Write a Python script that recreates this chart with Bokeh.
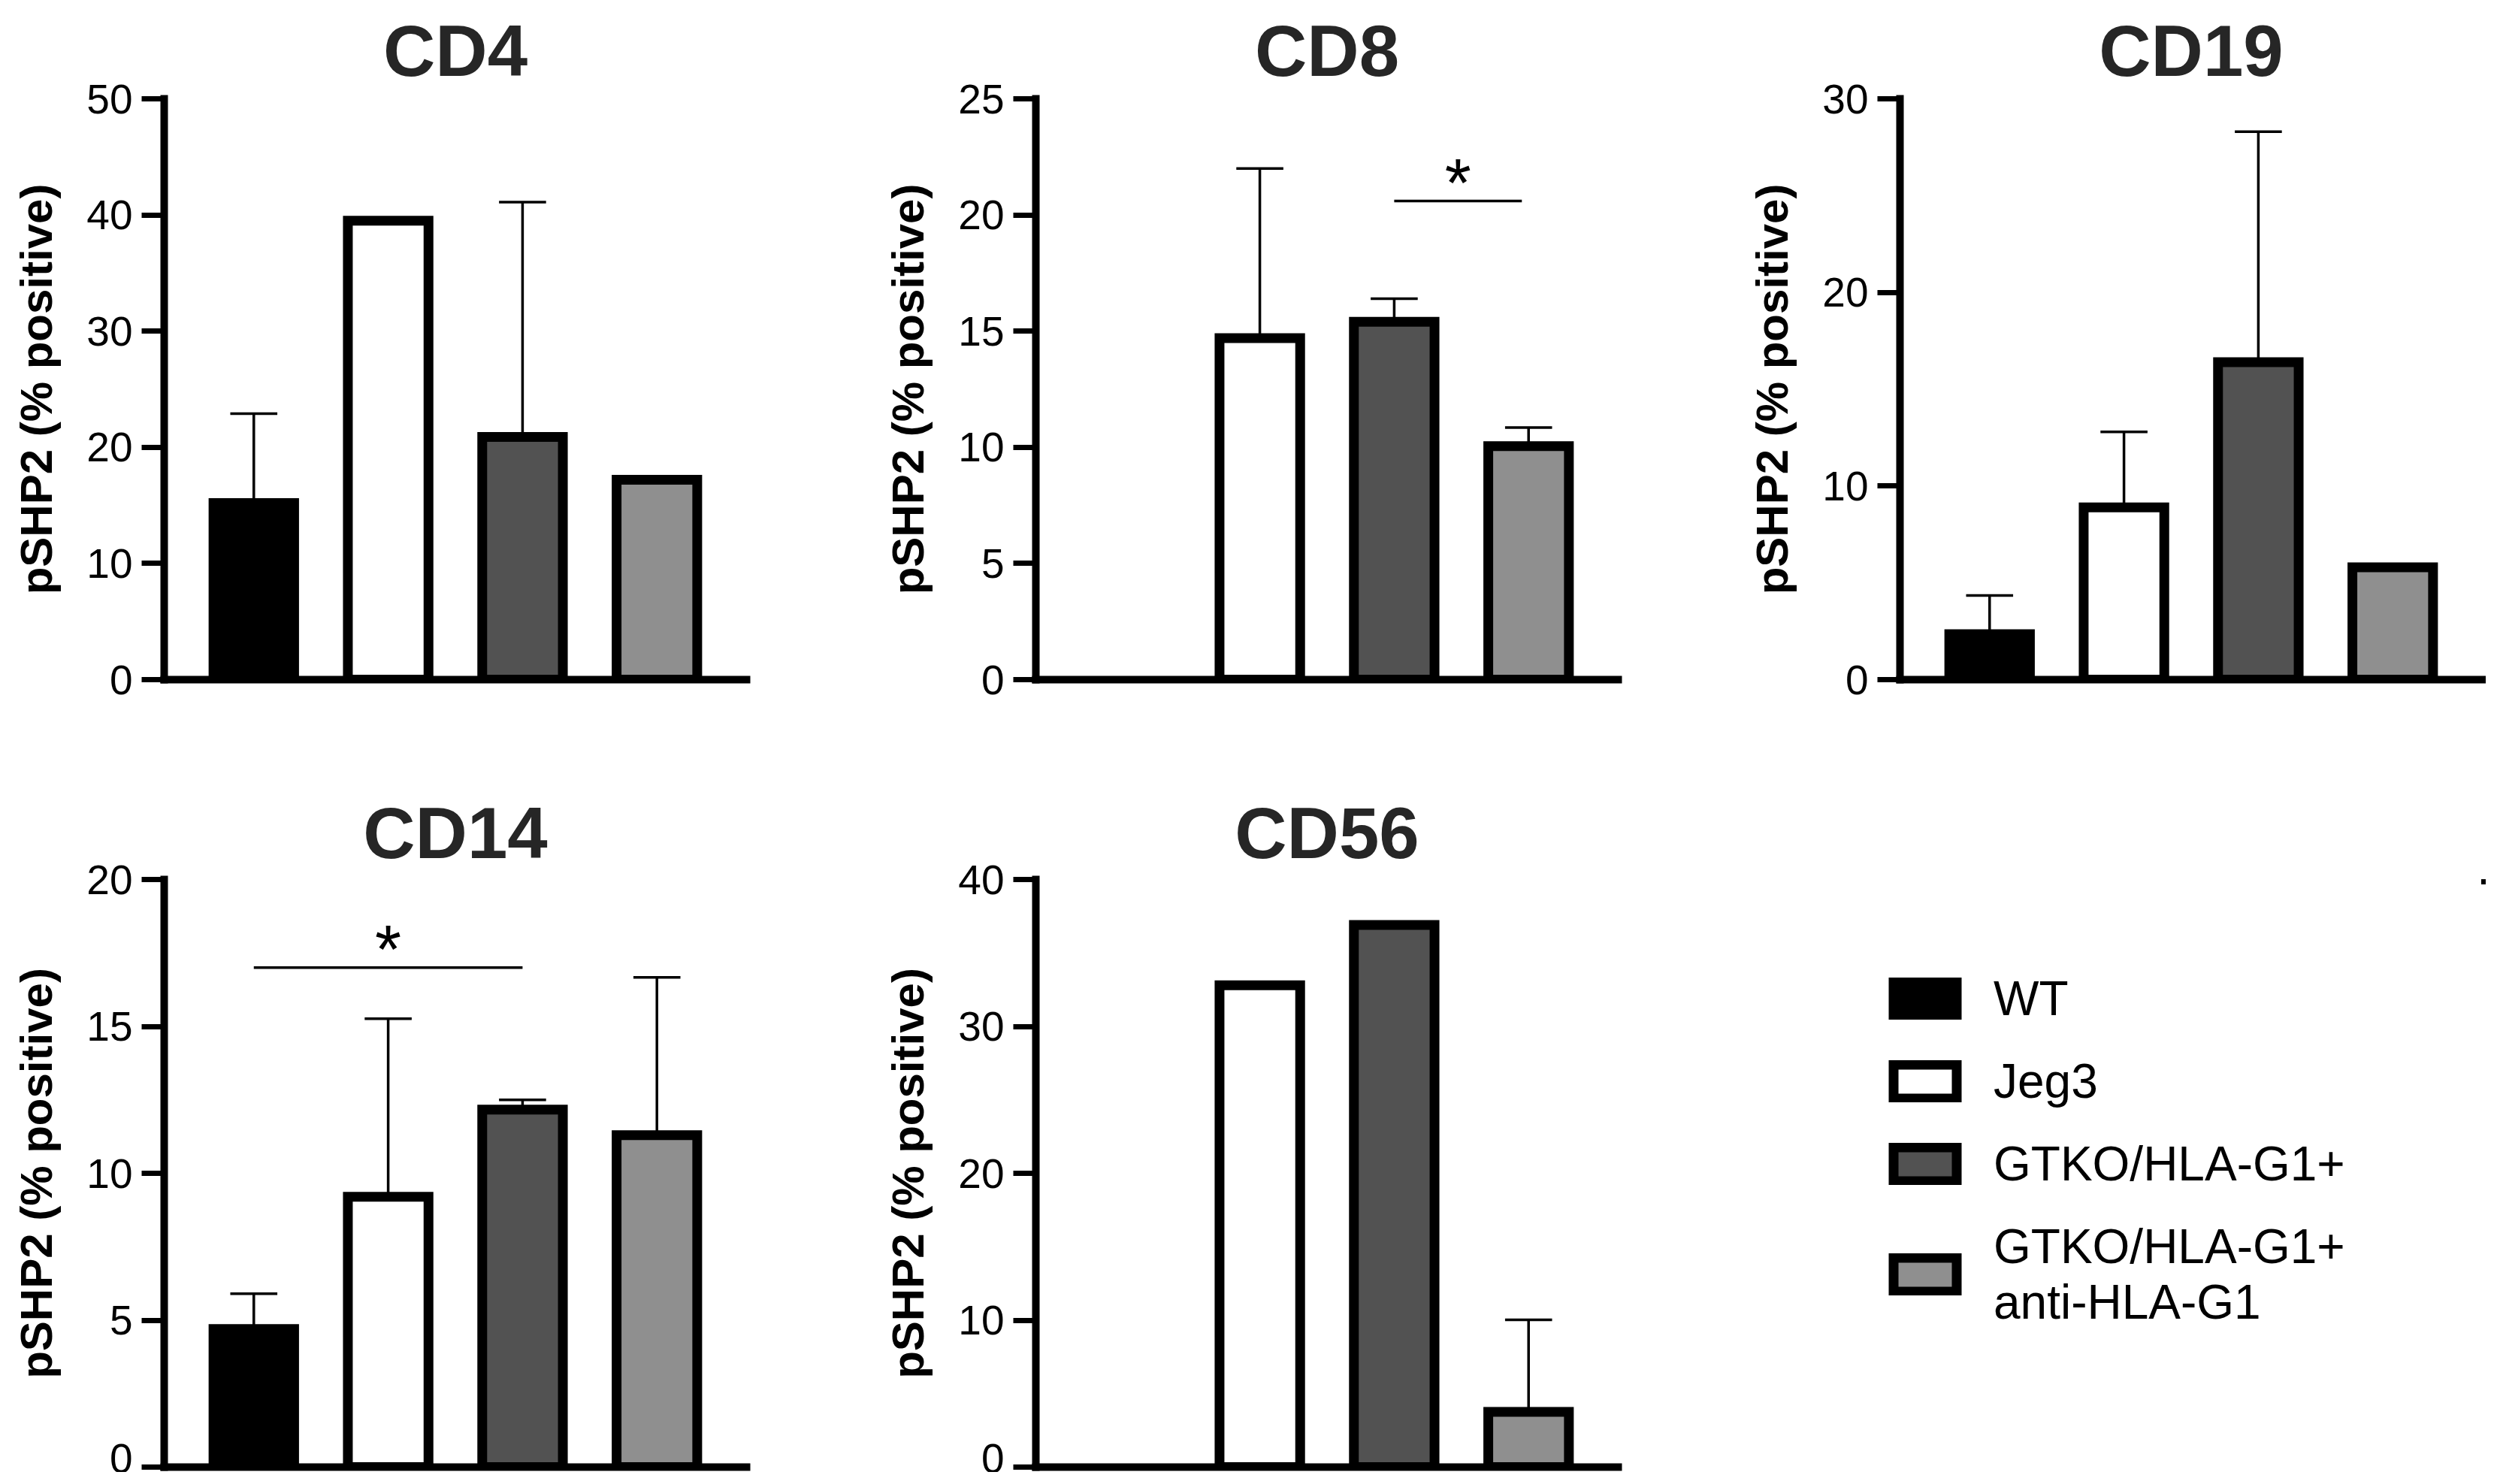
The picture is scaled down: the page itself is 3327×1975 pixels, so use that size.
from bokeh.plotting import figure
from bokeh.layouts import column, row
from bokeh.models import FixedTicker, Range1d, Legend, LegendItem
from bokeh.embed import file_html
from bokeh.resources import INLINE
from bokeh.core.properties import value

# ---------------- data ----------------
groups = ["WT", "Jeg3", "GTKO/HLA-G1+", "GTKO/HLA-G1+\nanti-HLA-G1"]
group_colors = ["#000000", "#ffffff", "#525252", "#8f8f8f"]
positions = [1, 2, 3, 4]

cd4_mean = [15.2, 39.5, 20.9, 17.2]
cd4_err = [7.7, None, 20.2, None]
cd4_ticks = [0, 10, 20, 30, 40, 50]

cd8_mean = [None, 14.7, 15.4, 10.05]
cd8_err = [None, 7.3, 1.0, 0.8]
cd8_ticks = [0, 5, 10, 15, 20, 25]
cd8_sig_x = [3.0, 3.95]
cd8_sig_y = 20.6

cd19_mean = [2.35, 8.9, 16.4, 5.8]
cd19_err = [2.0, 3.9, 11.9, None]
cd19_ticks = [0, 10, 20, 30]

cd14_mean = [4.7, 9.2, 12.17, 11.3]
cd14_err = [1.2, 6.06, 0.33, 5.37]
cd14_ticks = [0, 5, 10, 15, 20]
cd14_sig_x = [1.0, 3.0]
cd14_sig_y = 17.0

cd56_mean = [None, 32.8, 36.9, 3.76]
cd56_err = [None, None, None, 6.27]
cd56_ticks = [0, 10, 20, 30, 40]

FONT = "Liberation Sans"
BAR_W = 0.6
CAP_HALF = 0.175


def panel(title, means, errs, ticks, width, height, left, right, top, bottom, standoff,
          sig_x=None, sig_y=None):
    p = figure(width=width, height=height,
               x_range=Range1d(0.333, 4.667), y_range=Range1d(0, ticks[-1]),
               min_border_left=left, min_border_right=right,
               min_border_top=top, min_border_bottom=bottom,
               output_backend="svg", toolbar_location=None, title=title)
    p.grid.visible = False
    p.outline_line_color = None
    p.background_fill_color = "white"
    p.border_fill_color = "white"

    p.title.text_font = FONT
    p.title.text_font_size = "96px"
    p.title.text_font_style = "bold"
    p.title.text_color = "#262626"
    p.title.align = "center"
    p.title.standoff = standoff

    ya = p.yaxis[0]
    ya.ticker = FixedTicker(ticks=ticks)
    ya.axis_line_width = 10
    ya.axis_line_cap = "square"
    ya.major_tick_line_width = 7
    ya.major_tick_out = 30
    ya.major_tick_in = 0
    ya.minor_tick_line_color = None
    ya.major_label_text_font = FONT
    ya.major_label_text_font_size = "55px"
    ya.major_label_text_color = "black"
    ya.major_label_standoff = 12
    ya.axis_label = "pSHP2 (% positive)"
    ya.axis_label_text_font = FONT
    ya.axis_label_text_font_size = "60px"
    ya.axis_label_text_font_style = "bold"
    ya.axis_label_text_color = "black"
    ya.axis_label_standoff = 30

    xa = p.xaxis[0]
    xa.ticker = FixedTicker(ticks=[])
    xa.axis_line_width = 10
    xa.axis_line_cap = "square"
    xa.major_tick_line_color = None
    xa.minor_tick_line_color = None
    xa.major_label_text_font_size = "0px"
    xa.major_label_standoff = 0

    # error bars (upper only)
    ex, elo, ehi = [], [], []
    for x, m, e in zip(positions, means, errs):
        if m is None or e is None:
            continue
        ex.append(x); elo.append(m); ehi.append(m + e)
    if ex:
        p.segment(x0=ex, y0=elo, x1=ex, y1=ehi, line_color="black", line_width=3.5)
        p.segment(x0=[x - CAP_HALF for x in ex], y0=ehi,
                  x1=[x + CAP_HALF for x in ex], y1=ehi,
                  line_color="black", line_width=3.5)

    # bars
    bx, bt, bc = [], [], []
    for x, m, c in zip(positions, means, group_colors):
        if m is None:
            continue
        bx.append(x); bt.append(m); bc.append(c)
    p.vbar(x=bx, top=bt, width=BAR_W, bottom=0, fill_color=bc,
           line_color="black", line_width=13, line_join="miter")

    if sig_x is not None:
        p.segment(x0=[sig_x[0]], y0=[sig_y], x1=[sig_x[1]], y1=[sig_y],
                  line_color="black", line_width=3.5)
        p.text(x=[(sig_x[0] + sig_x[1]) / 2], y=[sig_y], text=["*"],
               text_font=value(FONT), text_font_size="90px", y_offset=-24,
               text_align="center", text_baseline="alphabetic", text_color="black")
    return p


p1 = panel("CD4", cd4_mean, cd4_err, cd4_ticks, 1160, 1000, 218, 167, 122, 96, 22)
p2 = panel("CD8", cd8_mean, cd8_err, cd8_ticks, 1150, 1000, 218, 157, 122, 96, 22, cd8_sig_x, cd8_sig_y)
p3 = panel("CD19", cd19_mean, cd19_err, cd19_ticks, 998, 1000, 218, 5, 122, 96, 22)
p4 = panel("CD14", cd14_mean, cd14_err, cd14_ticks, 1160, 959, 218, 167, 170, 7, 18, cd14_sig_x, cd14_sig_y)
p5 = panel("CD56", cd56_mean, cd56_err, cd56_ticks, 1150, 959, 218, 157, 170, 7, 18)

# legend panel (dummy bars kept outside the visible range, used only for legend glyphs)
pl = figure(width=998, height=959, x_range=Range1d(-3, -2), y_range=Range1d(-3, -2),
            x_axis_location=None, y_axis_location=None,
            min_border_left=190, min_border_top=170, min_border_right=0, min_border_bottom=7,
            output_backend="svg", toolbar_location=None)
pl.grid.visible = False
pl.outline_line_color = None
items = []
for g, c, x in zip(groups, group_colors, positions):
    r = pl.vbar(x=[x], top=[1], width=0.5, fill_color=c, line_color="black",
                line_width=13, line_join="miter")
    items.append(LegendItem(label=g, renderers=[r]))
leg = Legend(items=items, location=(9, 182), margin=0, padding=0,
             glyph_width=105, glyph_height=56, label_standoff=39, spacing=36,
             label_text_font=FONT, label_text_font_size="64px", label_text_color="black",
             border_line_color=None, background_fill_alpha=0)
pl.add_layout(leg, "center")

layout = column(row(p1, p2, p3), row(p4, p5, pl))
open("out.html", "w").write(file_html(layout, INLINE))
